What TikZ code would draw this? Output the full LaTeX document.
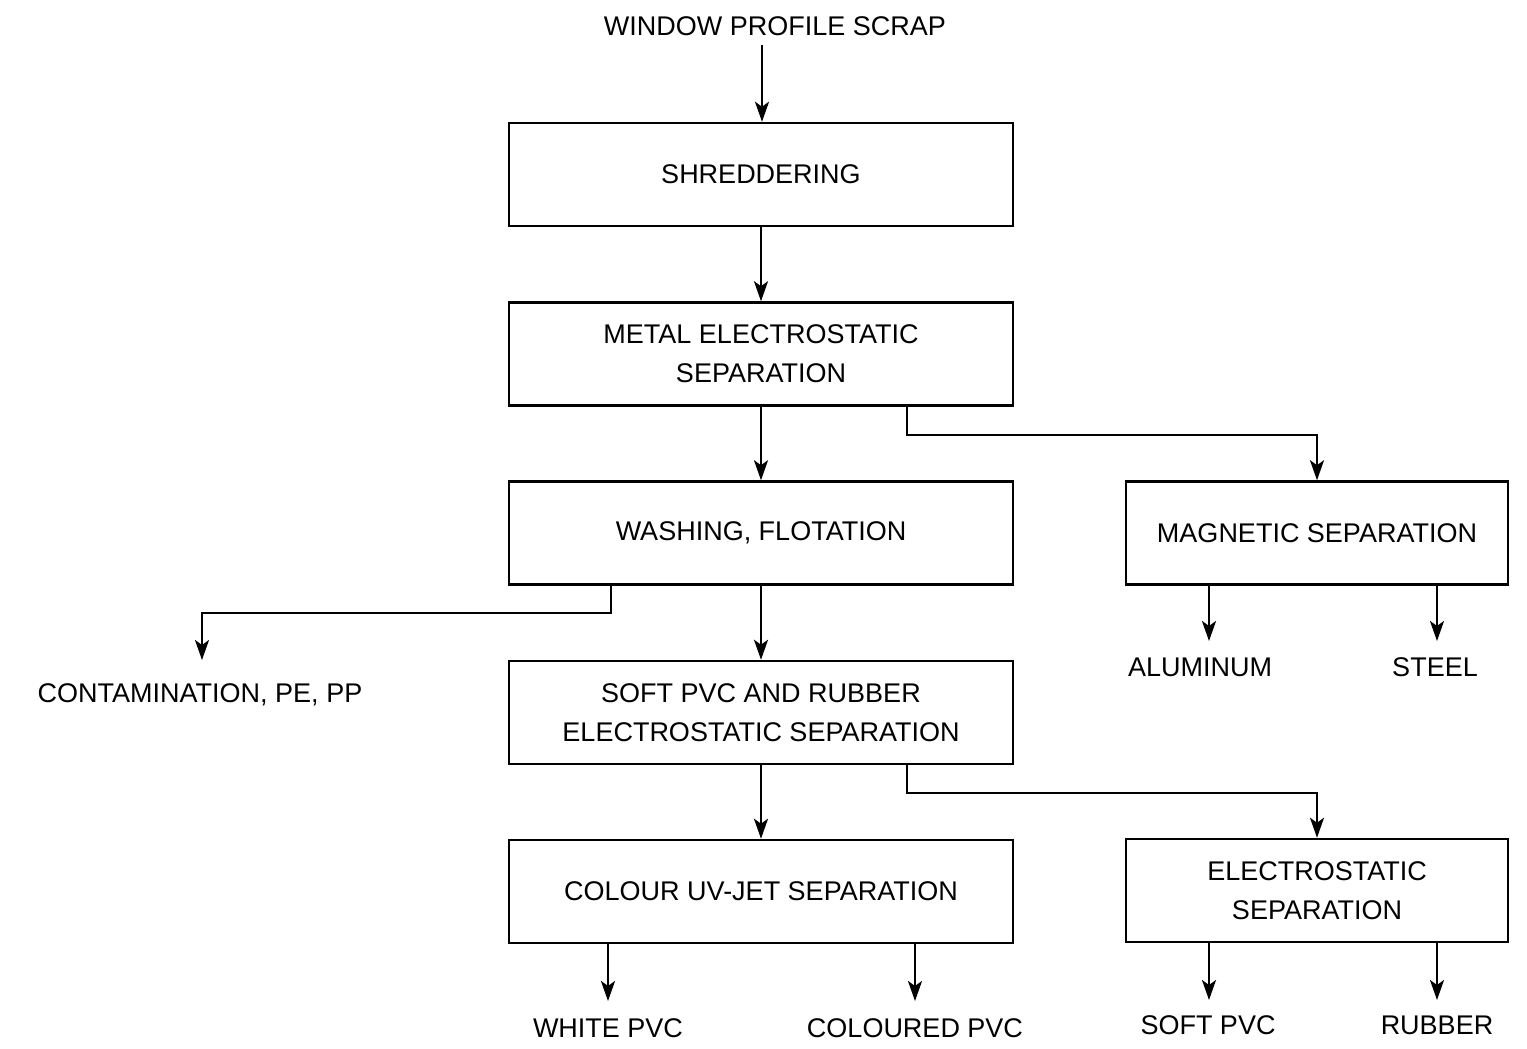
\documentclass[tikz,border=0pt]{standalone}
\usepackage{fontspec}
\setmainfont{Liberation Sans}
\usetikzlibrary{arrows.meta}
\begin{document}
\begin{tikzpicture}[x=1pt,y=-1pt,
  box/.style={draw,line width=2.5pt,minimum width=504pt,minimum height=103pt,inner sep=0pt,align=center,font=\fontsize{27}{39}\selectfont},
  sbox/.style={box,minimum width=382pt},
  lbl/.style={font=\fontsize{27}{39}\selectfont,inner sep=0pt},
  arr/.style={line width=2.5pt,-{Stealth[length=20pt,width=14pt,inset=5pt]}}]
\useasboundingbox (0,0) rectangle (1527,1049);
\node[lbl] (src) at (775,26) {WINDOW PROFILE SCRAP};
\node[box] (shr) at (761,174.5) {SHREDDERING};
\node[box] (met) at (761,354) {METAL ELECTROSTATIC\\SEPARATION};
\node[box] (wash) at (761,533) {WASHING, FLOTATION};
\node[box] (soft) at (761,712.5) {SOFT PVC AND RUBBER\\ELECTROSTATIC SEPARATION};
\node[box] (uv) at (761,891.5) {COLOUR UV-JET SEPARATION};
\node[sbox] (mag) at (1317,533) {MAGNETIC SEPARATION};
\node[sbox] (es) at (1317,890.5) {ELECTROSTATIC\\SEPARATION};
\node[lbl] (cont) at (200,695) {CONTAMINATION, PE, PP};
\node[lbl] (al) at (1200,667) {ALUMINUM};
\node[lbl] (st) at (1435,667) {STEEL};
\node[lbl] (wp) at (608,1028) {WHITE PVC};
\node[lbl] (cp) at (915,1028) {COLOURED PVC};
\node[lbl] (sp) at (1208,1025) {SOFT PVC};
\node[lbl] (rb) at (1437,1025) {RUBBER};
\draw[arr] (762,45) -- (shr.north -| 762,0);
\draw[arr] (shr) -- (met);
\draw[arr] (met) -- (wash);
\draw[arr] (wash) -- (soft);
\draw[arr] (soft) -- (uv);
\draw[arr] (met.south -| 907,0) |- (1317,435) -- (mag.north);
\draw[arr] (soft.south -| 907,0) |- (1317,793) -- (es.north);
\draw[arr] (wash.south -| 611,0) |- (202,613) -- (202,660);
\draw[arr] (mag.south -| 1209,0) -- (1209,641);
\draw[arr] (mag.south -| 1437,0) -- (1437,641);
\draw[arr] (uv.south -| 608,0) -- (608,1001);
\draw[arr] (uv.south -| 915,0) -- (915,1001);
\draw[arr] (es.south -| 1209,0) -- (1209,1000);
\draw[arr] (es.south -| 1437,0) -- (1437,1000);
\end{tikzpicture}
\end{document}
